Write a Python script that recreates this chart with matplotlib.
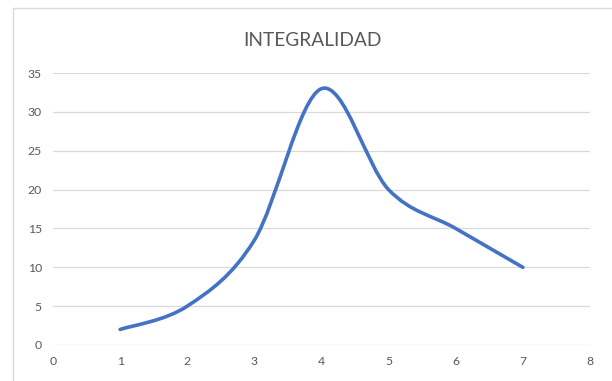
import numpy as np
import matplotlib
matplotlib.use("Agg")
import matplotlib.pyplot as plt
from matplotlib.path import Path
from matplotlib.patches import PathPatch, Rectangle

# data
x_vals = [1, 2, 3, 4, 5, 6, 7]
y_vals = [2, 5, 13.5, 33, 20, 15, 10]
x_ticks = [0, 1, 2, 3, 4, 5, 6, 7, 8]
y_ticks = [0, 5, 10, 15, 20, 25, 30, 35]

plt.rcParams['font.family'] = ['Lato', 'DejaVu Sans']

fig = plt.figure(figsize=(6.12, 3.81), dpi=100)
ax = fig.add_axes([0.0866, 0.0945, 0.8774, 0.7135])

# smoothed line like Excel (catmull-rom style bezier segments)
pts = np.column_stack([x_vals, y_vals]).astype(float)
verts = [tuple(pts[0])]
codes = [Path.MOVETO]
n = len(pts)
for i in range(n - 1):
    p0 = pts[max(i - 1, 0)]
    p1 = pts[i]
    p2 = pts[i + 1]
    p3 = pts[min(i + 2, n - 1)]
    c1 = p1 + (p2 - p0) / 6.0
    c2 = p2 - (p3 - p1) / 6.0
    verts += [tuple(c1), tuple(c2), tuple(p2)]
    codes += [Path.CURVE4] * 3
ax.add_patch(PathPatch(Path(verts, codes), facecolor='none', edgecolor='#4472C4',
                       lw=2.6, capstyle='round', joinstyle='round', zorder=3))

ax.set_xlim(0, 8)
ax.set_ylim(0, 35)
ax.set_xticks(x_ticks)
ax.set_yticks(y_ticks)
ax.grid(axis='y', color='#D9D9D9', lw=0.9)
ax.set_axisbelow(True)
for s in ax.spines.values():
    s.set_visible(False)
ax.tick_params(length=0, colors='#595959', labelsize=8.8, pad=8)

fig.text(0.511, 0.895, "INTEGRALIDAD", ha='center', va='center',
         fontsize=13.8, color='#595959')

# chart area border
fig.patches.append(Rectangle((13 / 612, -0.1), 1.2, 1 - 8 / 381 + 0.1,
                             transform=fig.transFigure, fill=False,
                             edgecolor='#D9D9D9', lw=1))

fig.savefig("out.png", dpi=100)
